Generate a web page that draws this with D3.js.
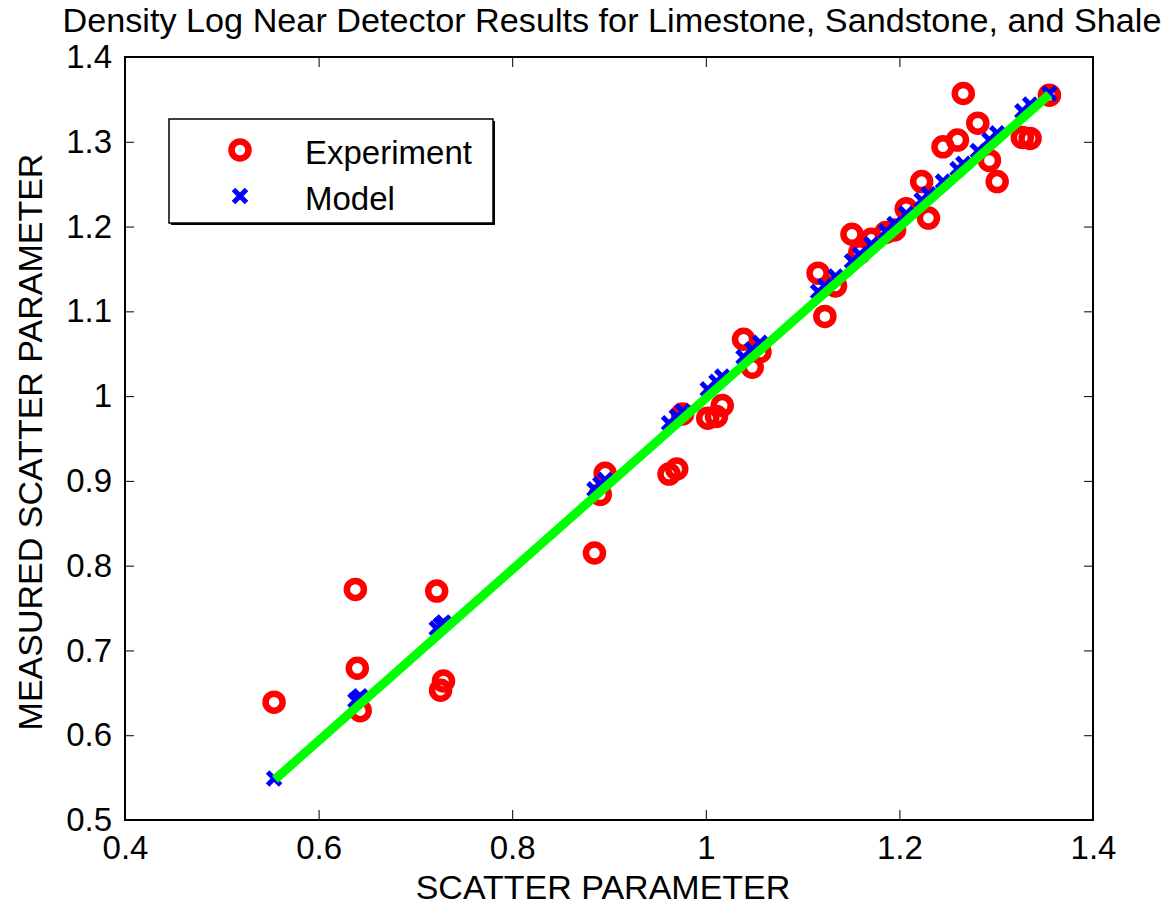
<!DOCTYPE html>
<html lang="en-US">
<head>
  <meta charset="UTF-8"/>
  <title>Density Log Near Detector Results</title>
  <style>
    body { margin: 0; background: #fff; }
    svg { display: block; font-family: "Liberation Sans", Arial, sans-serif; }
    .axis path { display: none; }
    .axis line { stroke: #000; stroke-width: 1; }
    .axis text { font-size: 33px; fill: #000; }
  </style>
</head>
<body>
<svg id="chart" width="1169" height="907"></svg>

<script src="https://cdn.jsdelivr.net/npm/d3@7"></script>
<script>

// data
var scatterX = [0.554, 0.638, 0.640, 0.643, 0.722, 0.726, 0.729, 0.885, 0.891, 0.896,
                0.962, 0.970, 0.976, 1.002, 1.011, 1.017, 1.039, 1.048, 1.056, 1.116,
                1.123, 1.134, 1.151, 1.159, 1.171, 1.186, 1.195, 1.207, 1.223, 1.230,
                1.245, 1.260, 1.266, 1.281, 1.293, 1.301, 1.327, 1.335, 1.355];
var experimentY = [0.639, 0.772, 0.679, 0.629, 0.770, 0.653, 0.664, 0.815, 0.884, 0.909,
                   0.908, 0.914, 0.979, 0.974, 0.976, 0.989, 1.067, 1.034, 1.052, 1.145,
                   1.094, 1.130, 1.191, 1.169, 1.185, 1.193, 1.196, 1.221, 1.253, 1.210,
                   1.294, 1.302, 1.357, 1.322, 1.278, 1.253, 1.305, 1.304, 1.355];
var modelY = [0.549, 0.641, 0.643, 0.646, 0.726, 0.730, 0.733, 0.890, 0.896, 0.901,
              0.968, 0.976, 0.982, 1.008, 1.017, 1.023, 1.046, 1.055, 1.063, 1.123,
              1.130, 1.141, 1.159, 1.167, 1.179, 1.194, 1.203, 1.215, 1.231, 1.238,
              1.253, 1.268, 1.274, 1.289, 1.302, 1.310, 1.336, 1.344, 1.357];
var fitX = [0.555, 1.355];
var fitY = [0.548, 1.356];

var xTicks = [0.4, 0.6, 0.8, 1.0, 1.2, 1.4];
var xTickLabels = ["0.4", "0.6", "0.8", "1", "1.2", "1.4"];
var yTicks = [0.5, 0.6, 0.7, 0.8, 0.9, 1.0, 1.1, 1.2, 1.3, 1.4];
var yTickLabels = ["0.5", "0.6", "0.7", "0.8", "0.9", "1", "1.1", "1.2", "1.3", "1.4"];
var legendNames = ["Experiment", "Model"];

// layout
var plot = {left: 125, right: 1093, top: 57, bottom: 820};
var svg = d3.select("#chart");

var xScale = d3.scaleLinear().domain([0.4, 1.4]).range([plot.left, plot.right]);
var yScale = d3.scaleLinear().domain([0.5, 1.4]).range([plot.bottom, plot.top]);

// axes, ticks inside on all four sides
svg.append("g").attr("class", "axis")
    .attr("transform", "translate(0," + plot.bottom + ")")
    .call(d3.axisBottom(xScale).tickValues(xTicks).tickSize(-10).tickPadding(16)
        .tickFormat(function(d, i) { return xTickLabels[i]; }));
svg.append("g").attr("class", "axis")
    .attr("transform", "translate(0," + plot.top + ")")
    .call(d3.axisTop(xScale).tickValues(xTicks).tickSize(-10).tickFormat(""));
svg.append("g").attr("class", "axis")
    .attr("transform", "translate(" + plot.left + ",0)")
    .call(d3.axisLeft(yScale).tickValues(yTicks).tickSize(-9).tickPadding(13)
        .tickFormat(function(d, i) { return yTickLabels[i]; }));
svg.append("g").attr("class", "axis")
    .attr("transform", "translate(" + plot.right + ",0)")
    .call(d3.axisRight(yScale).tickValues(yTicks).tickSize(-9).tickFormat(""));

svg.selectAll(".axis text").attr("font-size", 33);

// box
svg.append("rect")
    .attr("x", plot.left).attr("y", plot.top)
    .attr("width", plot.right - plot.left).attr("height", plot.bottom - plot.top)
    .attr("fill", "none").attr("stroke", "#000").attr("stroke-width", 2);

// experiment circles
svg.append("g").selectAll("circle")
    .data(scatterX)
    .enter().append("circle")
    .attr("cx", function(d) { return xScale(d); })
    .attr("cy", function(d, i) { return yScale(experimentY[i]); })
    .attr("r", 8.5)
    .attr("fill", "none")
    .attr("stroke", "#ff0000")
    .attr("stroke-width", 6.5);

// model crosses
function crossPath(cx, cy, s) {
  return "M" + (cx - s) + "," + (cy - s) + "L" + (cx + s) + "," + (cy + s) +
         "M" + (cx - s) + "," + (cy + s) + "L" + (cx + s) + "," + (cy - s);
}
svg.append("g").selectAll("path")
    .data(scatterX)
    .enter().append("path")
    .attr("d", function(d, i) { return crossPath(xScale(d), yScale(modelY[i]), 6.5); })
    .attr("stroke", "#0000ff")
    .attr("stroke-width", 5)
    .attr("fill", "none");

// green fit line
var line = d3.line()
    .x(function(d) { return xScale(d[0]); })
    .y(function(d) { return yScale(d[1]); });
svg.append("path")
    .datum(d3.zip(fitX, fitY))
    .attr("d", line)
    .attr("stroke", "#00ff00")
    .attr("stroke-width", 9)
    .attr("fill", "none");

// legend
var lg = svg.append("g");
lg.append("rect").attr("x", 171).attr("y", 121).attr("width", 324).attr("height", 104)
    .attr("fill", "#000");
lg.append("rect").attr("x", 169).attr("y", 119).attr("width", 324).attr("height", 104)
    .attr("fill", "#fff").attr("stroke", "#000").attr("stroke-width", 1.5);
lg.append("circle").attr("cx", 240).attr("cy", 150).attr("r", 8.5)
    .attr("fill", "none").attr("stroke", "#ff0000").attr("stroke-width", 6.5);
lg.append("path").attr("d", crossPath(240, 196, 6.5))
    .attr("stroke", "#0000ff").attr("stroke-width", 5).attr("fill", "none");
lg.selectAll("text")
    .data(legendNames)
    .enter().append("text")
    .attr("x", 305)
    .attr("y", function(d, i) { return 152 + i * 46; })
    .attr("dy", "0.35em")
    .attr("font-size", 33)
    .text(function(d) { return d; });

// title and axis labels
svg.append("text")
    .attr("x", 612).attr("y", 32)
    .attr("text-anchor", "middle")
    .attr("font-size", 34)
    .attr("textLength", 1099)
    .attr("lengthAdjust", "spacingAndGlyphs")
    .text("Density Log Near Detector Results for Limestone, Sandstone, and Shale");

svg.append("text")
    .attr("x", 603).attr("y", 899)
    .attr("text-anchor", "middle")
    .attr("font-size", 34)
    .text("SCATTER PARAMETER");

svg.append("text")
    .attr("transform", "translate(42,442) rotate(-90)")
    .attr("text-anchor", "middle")
    .attr("font-size", 34)
    .text("MEASURED SCATTER PARAMETER");

</script>
</body>
</html>
